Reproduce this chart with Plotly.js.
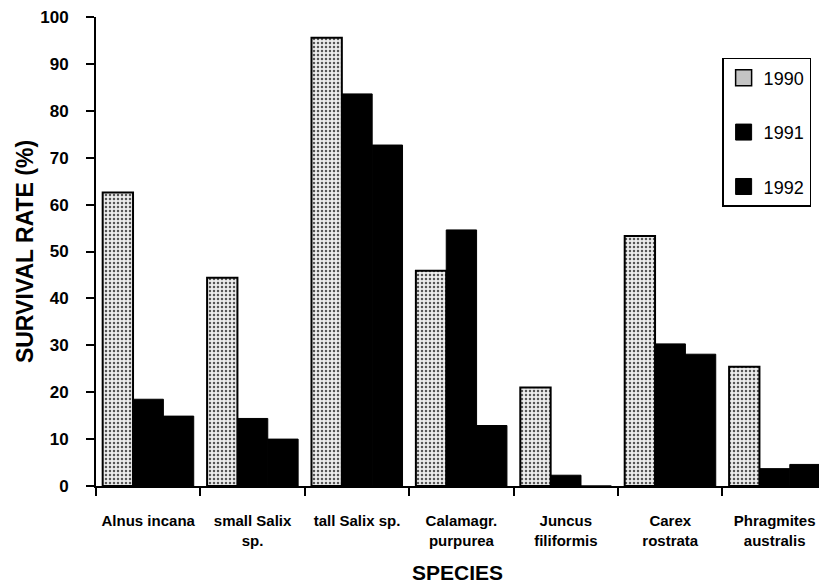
<!DOCTYPE html>
<html>
<head>
<meta charset="utf-8">
<script src="https://cdn.plot.ly/plotly-3.0.1.min.js"></script>
<style>html,body{margin:0;padding:0;background:#fff;}#chart{width:819px;height:584px;}</style>
</head>
<body>
<div id="chart"></div>
<script>
var species = ["Alnus incana", "small Salix<br>sp.", "tall Salix sp.", "Calamagr.<br>purpurea", "Juncus<br>filiformis", "Carex<br>rostrata", "Phragmites<br>australis"];
var years = ["1990", "1991", "1992"];
var rate1990 = [62.6, 44.4, 95.6, 45.9, 21.0, 53.3, 25.4];
var rate1991 = [18.5, 14.4, 83.6, 54.6, 2.3, 30.3, 3.7];
var rate1992 = [14.9, 10.0, 72.7, 12.9, 0, 28.1, 4.6];
var yTicks = [0, 10, 20, 30, 40, 50, 60, 70, 80, 90, 100];

var FONT = "Liberation Sans, Arial, Helvetica, sans-serif";

var traces = [
  {type: "bar", x: species, y: rate1990, name: years[0], showlegend: false, hoverinfo: "skip",
   marker: {color: "#d0d0d0", line: {color: "#000", width: 2},
            pattern: {shape: ".", fgcolor: "#555", bgcolor: "#ececec", size: 4, solidity: 0.3}}},
  {type: "bar", x: species, y: rate1991, name: years[1], showlegend: false, hoverinfo: "skip",
   marker: {color: "#000", line: {color: "#000", width: 1}}},
  {type: "bar", x: species, y: rate1992, name: years[2], showlegend: false, hoverinfo: "skip",
   marker: {color: "#000", line: {color: "#000", width: 1}}},
  {type: "scatter", mode: "markers", x: [species[0]], y: [null], name: years[0], legendgroup: "a",
   marker: {symbol: "square", size: 16, color: "#c4c4c4", line: {color: "#000", width: 1.5}}, hoverinfo: "skip"},
  {type: "scatter", mode: "markers", x: [species[0]], y: [null], name: years[1], legendgroup: "b",
   marker: {symbol: "square", size: 16, color: "#000", line: {color: "#000", width: 1}}, hoverinfo: "skip"},
  {type: "scatter", mode: "markers", x: [species[0]], y: [null], name: years[2], legendgroup: "c",
   marker: {symbol: "square", size: 16, color: "#000", line: {color: "#000", width: 1}}, hoverinfo: "skip"}
];

var boundaries = [];
for (var i = 0; i <= species.length; i++) boundaries.push(i - 0.5);

var layout = {
  width: 819, height: 584,
  margin: {l: 96, r: 0, t: 17, b: 98, autoexpand: false},
  paper_bgcolor: "#fff", plot_bgcolor: "#fff",
  font: {family: FONT, color: "#000"},
  barmode: "group", bargap: 0.128, bargroupgap: 0,
  showlegend: true,
  legend: {x: 0.866, y: 0.9126, xanchor: "left", yanchor: "top",
           bgcolor: "#fff", bordercolor: "#000", borderwidth: 1.5,
           font: {family: FONT, size: 18, color: "#000"},
           traceorder: "grouped", tracegroupgap: 28, itemsizing: "trace"},
  xaxis: {type: "category", categoryorder: "array", categoryarray: species,
          range: [-0.5, 6.425], tickson: "boundaries", ticks: "outside", ticklen: 8, tickwidth: 2, tickcolor: "#000",
          showline: true, linecolor: "#000", linewidth: 2, showgrid: false, zeroline: false,
          tickangle: 0, ticklabelstandoff: 20,
          tickfont: {family: FONT, size: 15, weight: 700, color: "#000"},
          title: {text: "SPECIES", standoff: 20, font: {family: FONT, size: 21, weight: 700, color: "#000"}},
          fixedrange: true},
  xaxis2: {overlaying: "x", anchor: "y", type: "linear", range: [-0.5, 6.425], tickmode: "array", tickvals: boundaries,
           ticks: "inside", ticklen: 7, tickwidth: 2, tickcolor: "#000", showticklabels: false,
           showline: false, showgrid: false, zeroline: false},
  yaxis: {range: [0, 100], tickmode: "array", tickvals: yTicks, ticks: "outside", ticklen: 8, tickwidth: 2, tickcolor: "#000",
          showline: true, linecolor: "#000", linewidth: 2, showgrid: false, zeroline: false,
          ticklabelstandoff: 14,
          tickfont: {family: FONT, size: 17, weight: 700, color: "#000"},
          title: {text: "SURVIVAL RATE (%)", standoff: 0, font: {family: FONT, size: 23, weight: 700, color: "#000"}},
          fixedrange: true},
  yaxis2: {overlaying: "y", anchor: "x", side: "left", range: [0, 100], tickmode: "array", tickvals: yTicks,
           ticks: "inside", ticklen: 7, tickwidth: 2, tickcolor: "#000", showticklabels: false,
           showline: false, showgrid: false, zeroline: false}
};

Plotly.newPlot("chart", traces, layout, {displayModeBar: false, staticPlot: true});
</script>
</body>
</html>
